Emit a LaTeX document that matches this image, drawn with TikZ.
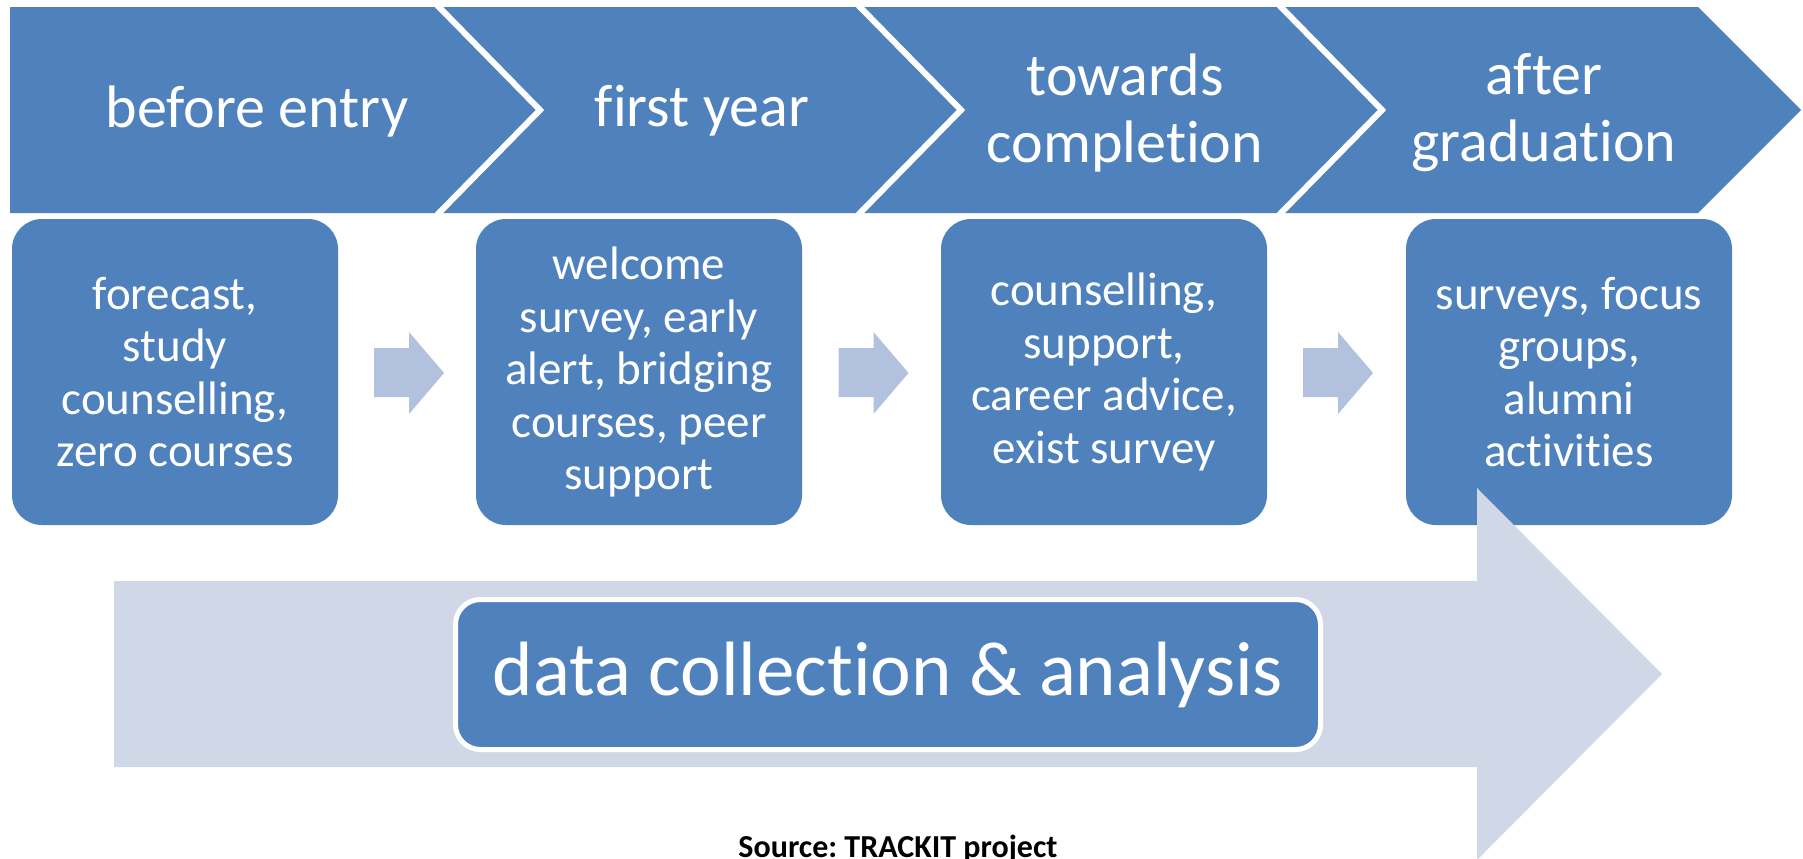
\documentclass[tikz,border=0pt]{standalone}
\usepackage{fontspec}
\setmainfont{Carlito}[Ligatures=NoCommon]
\frenchspacing
\definecolor{blu}{HTML}{4F81BD}
\definecolor{smarrow}{HTML}{B2C1DD}
\definecolor{bigarrow}{HTML}{D0D8E8}
\tikzset{
  chev/.style={fill=blu},
  sepline/.style={draw=white, line width=3pt},
  stagebox/.style={fill=blu, rounded corners=15pt, minimum width=163pt, minimum height=153pt,
    align=center, text=white, font=\fontsize{23.5}{26.25}\selectfont, inner sep=0pt},
  chevtext/.style={text=white, align=center, font=\fontsize{30}{33.5}\selectfont, inner sep=0pt},
  smallarrow/.style={fill=smarrow},
  bigarr/.style={fill=bigarrow},
  databox/.style={fill=blu, draw=white, line width=2.5pt, rounded corners=12.5pt,
    minimum width=432.5pt, minimum height=75pt, inner sep=0pt, text=white,
    font=\fontsize{38.5}{42}\selectfont},
  srctext/.style={text=black, font=\fontsize{16}{18}\selectfont\bfseries, inner sep=0pt}
}
\begin{document}
\begin{tikzpicture}[x=0.5pt,y=-0.5pt]
\useasboundingbox (0,0) rectangle (1803,858);
% chevrons
\fill[chev] (10,7) -- (437,7) -- (540,110) -- (437,213) -- (10,213) -- cycle;
\fill[chev] (437,7) -- (858,7) -- (961,110) -- (858,213) -- (437,213) -- (540,110) -- cycle;
\fill[chev] (858,7) -- (1279,7) -- (1382,110) -- (1279,213) -- (858,213) -- (961,110) -- cycle;
\fill[chev] (1279,7) -- (1698,7) -- (1801,110) -- (1698,213) -- (1279,213) -- (1382,110) -- cycle;
\draw[sepline] (437,5) -- (540,110) -- (437,215);
\draw[sepline] (858,5) -- (961,110) -- (858,215);
\draw[sepline] (1279,5) -- (1382,110) -- (1279,215);
\node[chevtext] (c1) at (257,111) {before entry};
\node[chevtext] (c2) at (702,111) {first year};
\node[chevtext] (c3) at (1125,113) {towards\\completion};
\node[chevtext] (c4) at (1544,113) {after\\graduation};
% stage boxes
\node[stagebox] (b1) at (175,372) {forecast,\\study\\counselling,\\zero courses};
\node[stagebox] (b2) at (639,372) {welcome\\survey, early\\alert, bridging\\courses, peer\\support};
\node[stagebox] (b3) at (1104,372) {counselling,\\support,\\career advice,\\exist survey};
\node[stagebox] (b4) at (1569,372) {surveys, focus\\groups,\\alumni\\activities};
% small arrows
\foreach \dx in {0,464.5,929}{
  \fill[smallarrow,xshift=\dx*0.5pt] (374,348) -- (409,348) -- (409,332) -- (444,373) -- (409,414) -- (409,397) -- (374,397) -- cycle;
}
% big arrow
\fill[bigarr] (114,581) -- (1477,581) -- (1477,488) -- (1662,674) -- (1477,860) -- (1477,767) -- (114,767) -- cycle;
\node[databox] (d) at (888,674.5) {data collection \& analysis};
% source
\node[srctext, anchor=base] (src) at (898,857) {Source: TRACKIT project};
\end{tikzpicture}
\end{document}
